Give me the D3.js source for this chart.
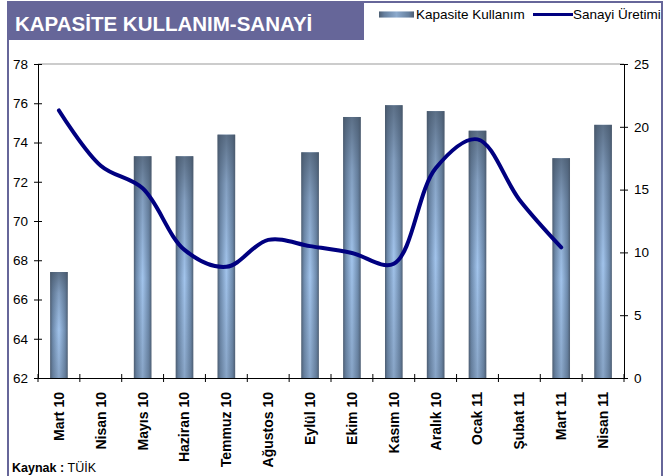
<!DOCTYPE html>
<html>
<head>
<meta charset="utf-8">
<title>Kapasite Kullanım - Sanayi</title>
<script src="https://cdn.jsdelivr.net/npm/d3@7"></script>
<style>
    html, body { margin: 0; padding: 0; background: white; }
    svg { display: block; font-family: 'Liberation Sans', Arial, sans-serif; }
    .tick text { font-size: 13.5px; fill: black; }
    .xax .tick text { font-weight: bold; font-size: 14px; }
</style>
</head>
<body>
<div id="chart"></div>
<script>

// DATA
let months = ['Mart 10','Nisan 10','Mayıs 10','Haziran 10','Temmuz 10','Ağustos 10','Eylül 10',
              'Ekim 10','Kasım 10','Aralık 10','Ocak 11','Şubat 11','Mart 11','Nisan 11']
let kapasite = [67.4, null, 73.3, 73.3, 74.4, null, 73.5, 75.3, 75.9, 75.6, 74.6, null, 73.2, 74.9]
let sanayi   = [21.3, 16.9, 15.1, 10.2, 8.85, 11.0, 10.5, 9.95, 9.1, 16.7, 19.0, 14.2, 10.4, null]
let leftTicks  = [62, 64, 66, 68, 70, 72, 74, 76, 78]
let rightTicks = [0, 5, 10, 15, 20, 25]

// LAYOUT
let W = 665, H = 476
let pLeft = 38, pRight = 624, pTop = 64, pBottom = 378
let purple = '#666699'

let svg = d3.select('#chart').append('svg')
    .attr('width', W).attr('height', H)

let defs = svg.append('defs')
let gh = defs.append('linearGradient').attr('id', 'barH')
    .attr('x1', '0').attr('x2', '1').attr('y1', '0').attr('y2', '0')
gh.selectAll('stop').data([
    [0, '#4e5f74'], [0.15, '#6f8cae'], [0.5, '#a2c4ec'], [0.85, '#6f8cae'], [1, '#4e5f74']
]).enter().append('stop')
    .attr('offset', d => d[0]).attr('stop-color', d => d[1])
let gv = defs.append('linearGradient').attr('id', 'barV')
    .attr('x1', '0').attr('x2', '0').attr('y1', '0').attr('y2', '1')
gv.selectAll('stop').data([
    [0, '#455466', 0.75], [0.2, '#4a5a6e', 0.35], [0.55, '#4a5a6e', 0], [1, '#4a5a6e', 0.3]
]).enter().append('stop')
    .attr('offset', d => d[0]).attr('stop-color', d => d[1]).attr('stop-opacity', d => d[2])

// FRAME
svg.append('rect')
    .attr('x', 8).attr('y', 2).attr('width', 654).attr('height', H + 10)
    .attr('fill', 'none').attr('stroke', purple).attr('stroke-width', 2)
svg.append('rect')
    .attr('x', 8).attr('y', 2).attr('width', 356).attr('height', 38)
    .attr('fill', purple)
svg.append('text')
    .attr('x', 15).attr('y', 31)
    .attr('fill', 'white').attr('font-weight', 'bold').attr('font-size', '20.5px')
    .text('KAPASİTE KULLANIM-SANAYİ')

// SCALES
let x = d3.scaleBand().domain(months).range([pLeft, pRight]).padding(0)
let yL = d3.scaleLinear().domain([62, 78]).range([pBottom, pTop])
let yR = d3.scaleLinear().domain([0, 25]).range([pBottom, pTop])

// top border line
svg.append('line')
    .attr('x1', pLeft).attr('x2', pRight).attr('y1', yL(78)).attr('y2', yL(78))
    .attr('stroke', '#999').attr('stroke-width', 1)

// BARS
let bw = x.bandwidth() * 0.42
let bars = svg.append('g')
let bdata = months.map((m, i) => ({ m: m, v: kapasite[i] })).filter(d => d.v != null)
bars.selectAll('rect.b').data(bdata).enter().append('rect')
    .attr('class', 'b')
    .attr('x', d => x(d.m) + x.bandwidth() / 2 - bw / 2)
    .attr('width', bw)
    .attr('y', d => yL(d.v))
    .attr('height', d => pBottom - yL(d.v))
    .attr('fill', 'url(#barH)')
bars.selectAll('rect.o').data(bdata).enter().append('rect')
    .attr('class', 'o')
    .attr('x', d => x(d.m) + x.bandwidth() / 2 - bw / 2)
    .attr('width', bw)
    .attr('y', d => yL(d.v))
    .attr('height', d => pBottom - yL(d.v))
    .attr('fill', 'url(#barV)')

// LINE
let ldata = months.map((m, i) => ({ m: m, v: sanayi[i] })).filter(d => d.v != null)
let line = d3.line()
    .x(d => x(d.m) + x.bandwidth() / 2)
    .y(d => yR(d.v))
    .curve(d3.curveCatmullRom.alpha(0.5))
svg.append('path')
    .datum(ldata)
    .attr('d', line)
    .attr('fill', 'none')
    .attr('stroke', '#000080')
    .attr('stroke-width', 4)
    .attr('stroke-linecap', 'round')

// AXES
let axL = svg.append('g').attr('transform', 'translate(' + pLeft + ',0)')
    .call(d3.axisLeft(yL).tickValues(leftTicks).tickSize(4).tickPadding(6))
axL.selectAll('.tick line').attr('x2', -4).attr('x1', 4)
let axR = svg.append('g').attr('transform', 'translate(' + pRight + ',0)')
    .call(d3.axisRight(yR).tickValues(rightTicks).tickSize(4).tickPadding(6))
axR.selectAll('.tick line').attr('x1', -4).attr('x2', 4)

let axX = svg.append('g').attr('class', 'xax').attr('transform', 'translate(0,' + pBottom + ')')
    .call(d3.axisBottom(x).tickSize(0))
axX.selectAll('.tick text')
    .attr('transform', 'rotate(-90)')
    .attr('text-anchor', 'end')
    .attr('x', -14).attr('y', 0).attr('dy', '0.35em')

let bounds = months.map(m => x(m)).concat([pRight])
axX.selectAll('line.bt').data(bounds).enter().append('line')
    .attr('class', 'bt')
    .attr('x1', d => d).attr('x2', d => d)
    .attr('y1', -4).attr('y2', 4)
    .attr('stroke', 'black')

svg.selectAll('.domain').attr('stroke', 'black')
svg.selectAll('.tick line').attr('stroke', 'black')

// LEGEND
let lg = svg.append('g').attr('font-size', '13.5px')
lg.append('rect').attr('x', 379).attr('y', 11.5).attr('width', 35).attr('height', 6)
    .attr('fill', 'url(#barH)')
lg.append('rect').attr('x', 379).attr('y', 11.5).attr('width', 35).attr('height', 6)
    .attr('fill', '#4a5a6e').attr('opacity', 0.25)
lg.append('text').attr('x', 416).attr('y', 19).text('Kapasite Kullanım')
lg.append('line').attr('x1', 533).attr('x2', 573).attr('y1', 14.5).attr('y2', 14.5)
    .attr('stroke', '#000080').attr('stroke-width', 3)
lg.append('text').attr('x', 573).attr('y', 19).text('Sanayi Üretimi')

// SOURCE
let src = svg.append('text').attr('x', 12).attr('y', 472).attr('font-size', '12.5px')
src.append('tspan').attr('font-weight', 'bold').text('Kaynak : ')
src.append('tspan').text('TÜİK')

</script>
</body>
</html>
